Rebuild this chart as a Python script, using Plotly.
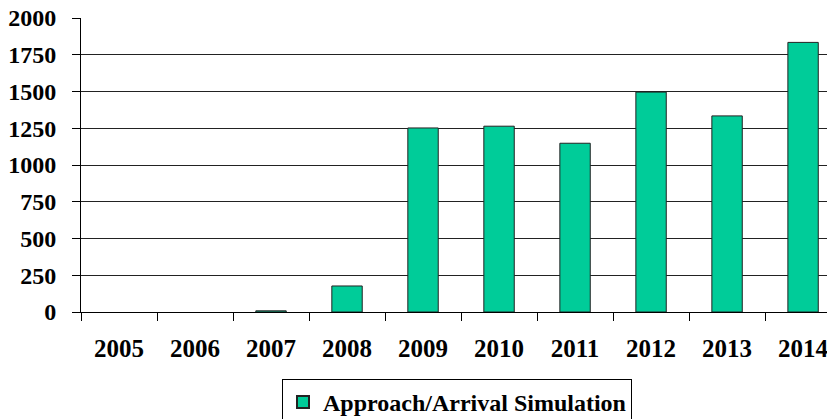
import plotly.graph_objects as go

years = ["2005", "2006", "2007", "2008", "2009", "2010", "2011", "2012", "2013", "2014"]
values = [0, 0, 8, 177, 1252, 1264, 1148, 1496, 1334, 1834]
series_name = "Approach/Arrival Simulation"
y_ticks = [0, 250, 500, 750, 1000, 1250, 1500, 1750, 2000]

font_family = "Liberation Serif, Times New Roman, serif"

# page body has an 8px default margin; figure is sized/placed to compensate
W, H = 827, 411

fig = go.Figure()
fig.add_trace(go.Bar(
    x=years, y=values, name=series_name,
    marker=dict(color="#00CC99",
                line=dict(color="#222222", width=[0 if v == 0 else 1 for v in values])),
    width=0.4,
    showlegend=True,
))

fig.update_layout(
    width=W, height=H,
    margin=dict(l=73, r=0, t=10, b=107, autoexpand=False),
    paper_bgcolor="white", plot_bgcolor="white",
    font=dict(family=font_family, size=25, color="black"),
    showlegend=True,
    legend=dict(
        orientation="h",
        xref="container", yref="container",
        x=449 / W, y=1 - 371 / H, xanchor="center", yanchor="top",
        bordercolor="black", borderwidth=1, bgcolor="white",
        font=dict(family=font_family, size=24, color="black", weight="bold"),
        itemsizing="constant", itemwidth=30,
    ),
)

fig.update_xaxes(
    type="category",
    range=[-0.5, 9.42],
    tickson="boundaries",
    ticks="outside", ticklen=8, tickcolor="black", tickwidth=1,
    showline=True, linecolor="black", linewidth=1,
    showgrid=False, automargin=False,
    tickfont=dict(family=font_family, size=25, color="black", weight="bold"),
    ticklabelstandoff=14,
    ticklabeloverflow="allow",
)

fig.update_yaxes(
    range=[0, 2000],
    tickvals=y_ticks,
    ticktext=[str(v) for v in y_ticks],
    ticks="outside", ticklen=8, tickcolor="black", tickwidth=1,
    showline=True, linecolor="black", linewidth=1,
    showgrid=True, gridcolor="#222222", gridwidth=1,
    zeroline=False, automargin=False,
    tickfont=dict(family=font_family, size=24, color="black", weight="bold"),
    ticklabelstandoff=11,
    ticklabeloverflow="allow",
)

fig.write_html("out.html")
